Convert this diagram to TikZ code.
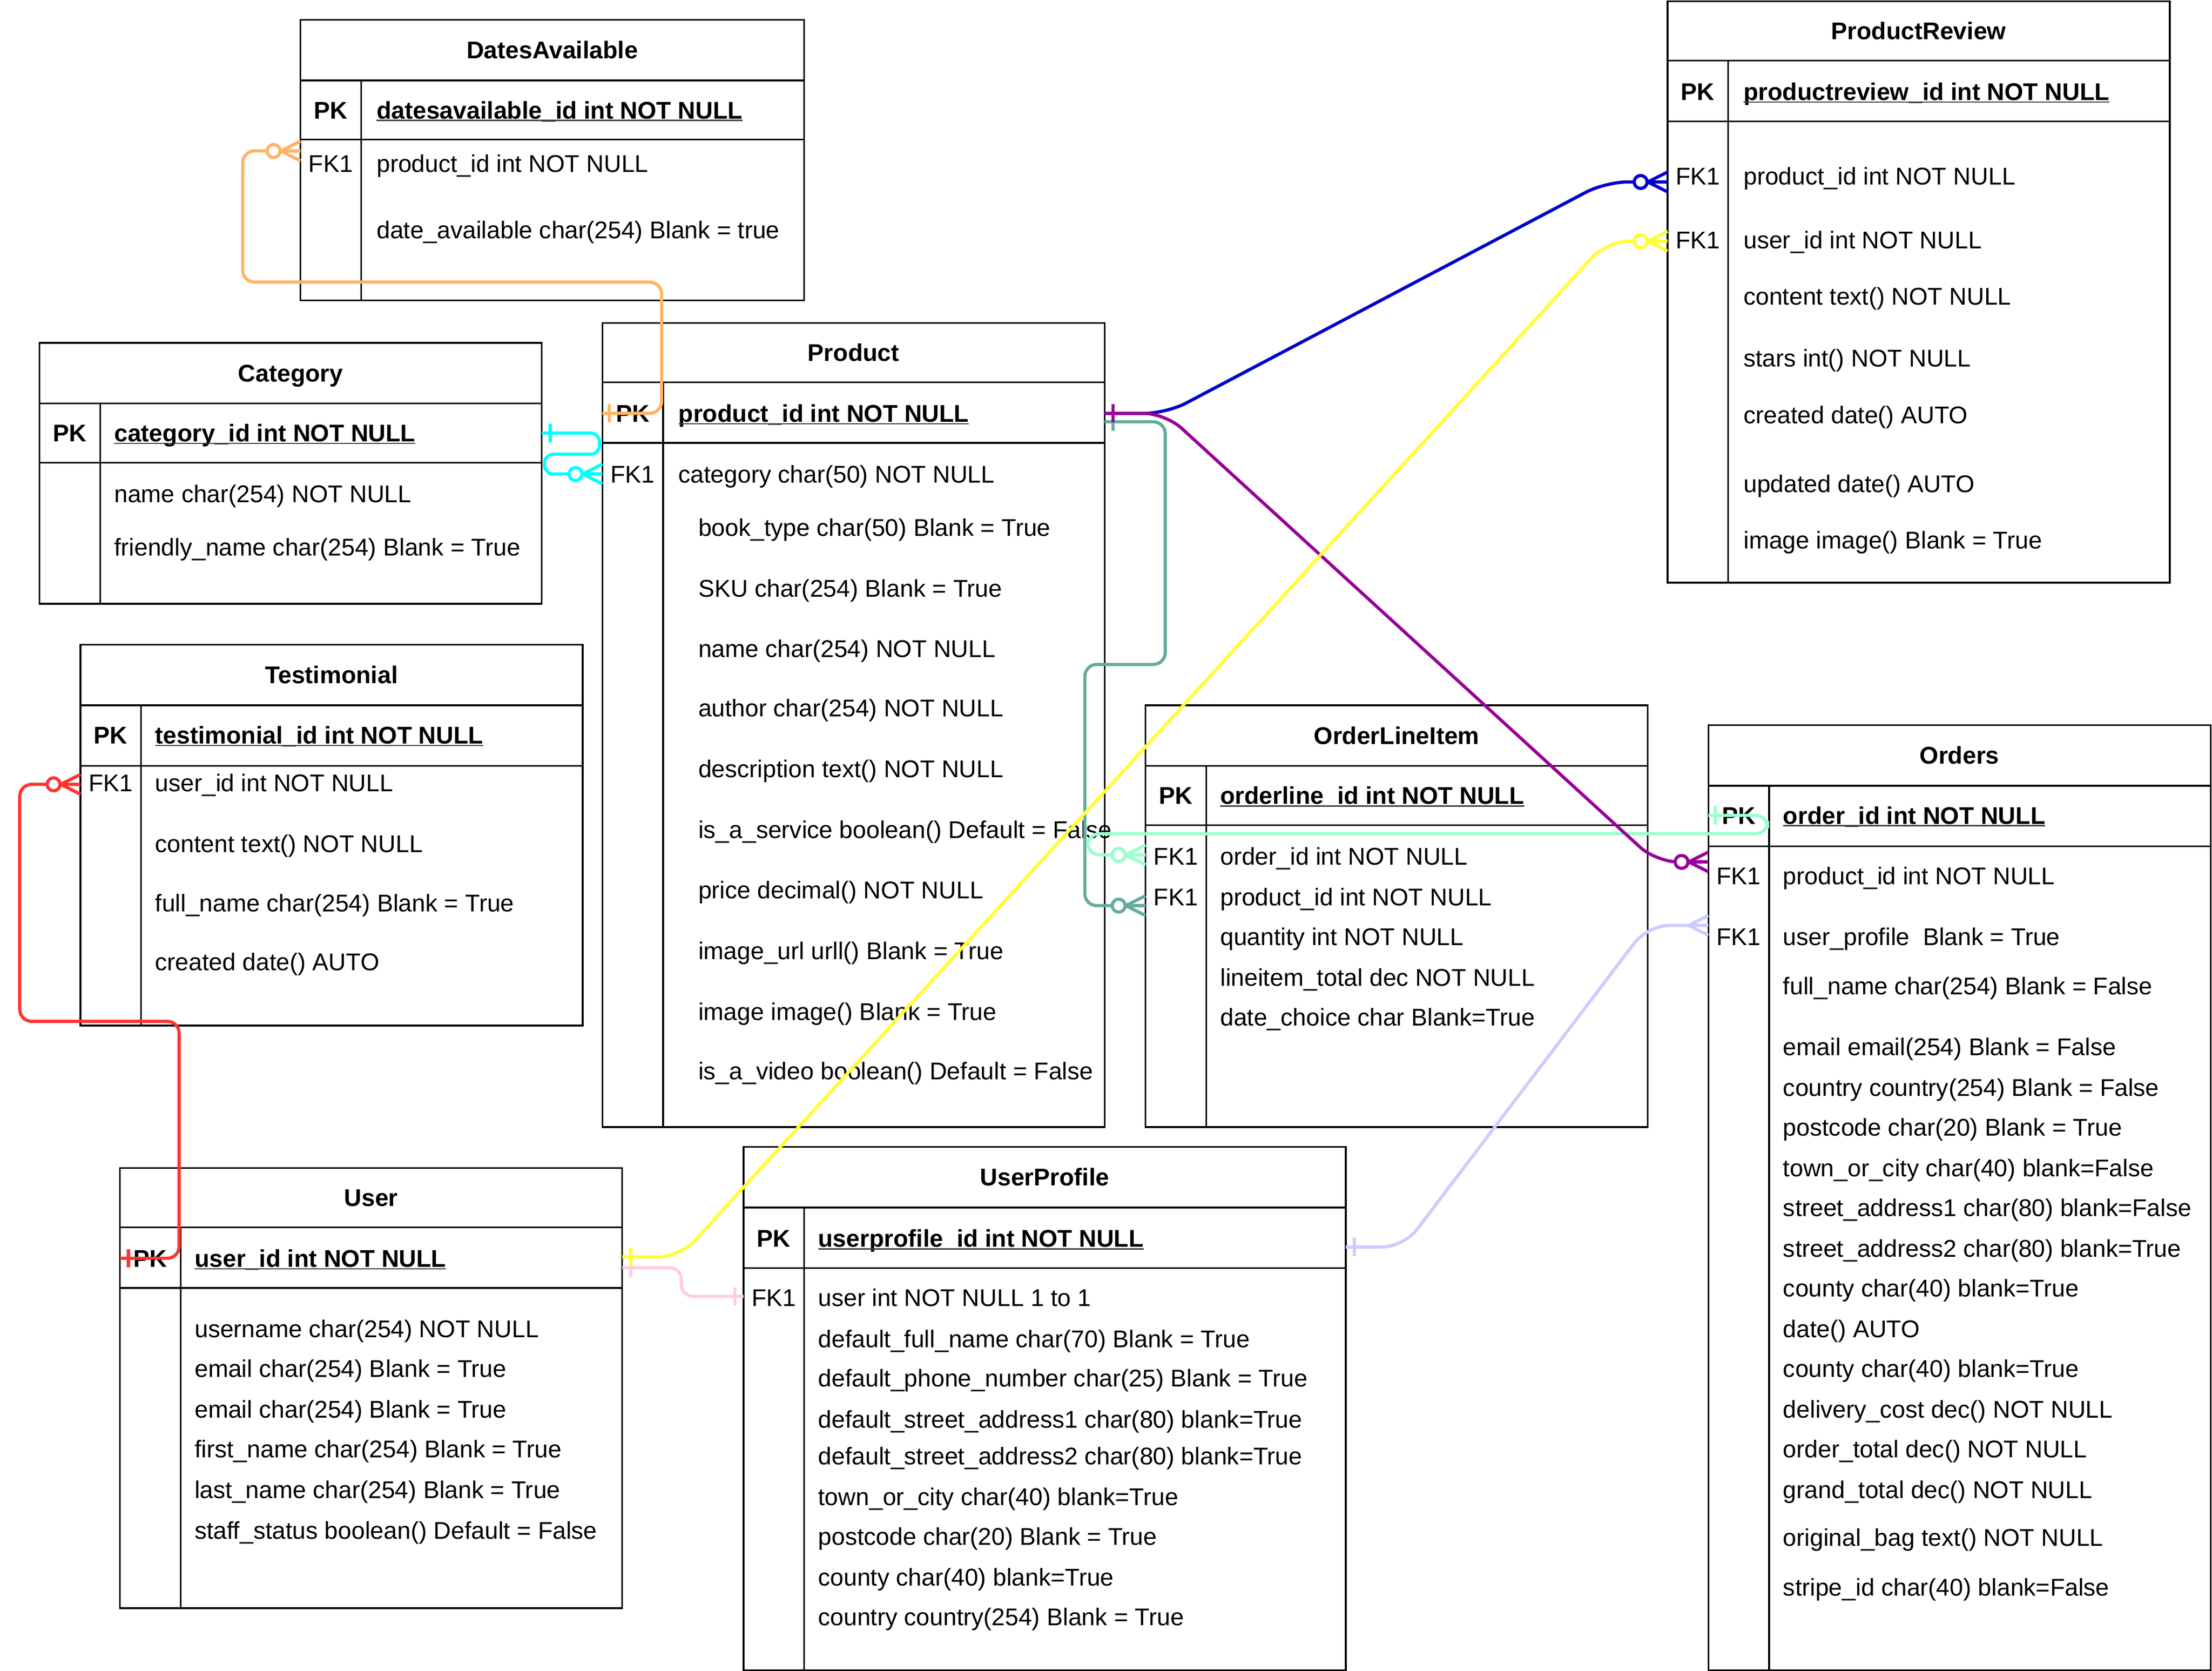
\documentclass[tikz,border=0pt]{standalone}
\usepackage{fontspec}
\setmainfont{Liberation Sans}
\usetikzlibrary{fit}
\definecolor{cOrange}{HTML}{FFB366}
\definecolor{cCyan}{HTML}{00FFFF}
\definecolor{cBlue}{HTML}{0000CC}
\definecolor{cPurple}{HTML}{990099}
\definecolor{cTeal}{HTML}{67AB9F}
\definecolor{cMint}{HTML}{99FFCC}
\definecolor{cYellow}{HTML}{FFFF33}
\definecolor{cLav}{HTML}{CCCCFF}
\definecolor{cPink}{HTML}{FFCCE6}
\definecolor{cRed}{HTML}{FF3333}

% table: name, left, top, right, bottom, title-bottom, pk-bottom, divider x, title
\newcommand{\ertable}[9]{%
  \node[tblbox, fit={(#2,#3) (#4,#5)}] (#1) {};
  \draw[tblline] (#2,#6) -- (#4,#6);
  \draw[tblline] (#2,#7) -- (#4,#7);
  \draw[tblline] (#8,#6) -- (#8,#5);
  \node[ttl] (#1-t) at ({(#2+#4)/2},{(#3+#6)/2}) {#9};
}
\newcommand{\erpk}[4]{%
  \node[fldb] (#1) at (#2,#3) {#4};
  \draw[uline] ([yshift=-0.9pt]#1.south west) -- ([yshift=-0.9pt]#1.south east);
}
\newcommand{\erfld}[4]{\node[fld] (#1) at (#2,#3) {#4};}
\newcommand{\erkey}[4]{\node[keyl] (#1) at (#2,#3) {#4};}
\newcommand{\erkeyb}[4]{\node[keyb] (#1) at (#2,#3) {#4};}
% crow's foot at entity edge (line arriving from the left); #3=1 adds circle
\newcommand{\ercrow}[3]{%
  \begin{scope}[shift={(#1)}]
    \draw[conn,#2] (-14,0) -- (0,-7) (-14,0) -- (0,7) (-14,0) -- (0,0);
    \ifnum#3=1 \draw[conn,#2,fill=white] (-19,0) circle[radius=4.6]; \fi
  \end{scope}}
% "one" tick, dx from the coordinate
\newcommand{\ertick}[3]{%
  \begin{scope}[shift={(#1)}]
    \draw[conn,#3] (#2,-6.5) -- (#2,6.5);
  \end{scope}}

\begin{document}
\begin{tikzpicture}[x=0.025cm,y=-0.025cm,
  tblbox/.style={draw=black, line width=0.85pt, fill=white, inner sep=0pt, outer sep=0pt},
  tblline/.style={draw=black, line width=0.85pt},
  txt/.style={inner sep=0pt, outer sep=0pt, text height=8.7pt, text depth=0pt, font=\fontsize{12.2}{14}\selectfont},
  ttl/.style={txt, font=\fontsize{12.2}{14}\selectfont\bfseries},
  fld/.style={txt, anchor=west},
  fldb/.style={fld, font=\fontsize{12.2}{14}\selectfont\bfseries},
  keyl/.style={txt},
  keyb/.style={txt, font=\fontsize{12.2}{14}\selectfont\bfseries},
  uline/.style={draw=black!75, line width=0.6pt},
  conn/.style={line width=1.6pt, line join=round},
  ortho/.style={conn, rounded corners=6pt},
  diag/.style={conn, rounded corners=11pt},
]
\fill[white] (0,0) rectangle (1568,1184.55);
\useasboundingbox (0,0) rectangle (1568,1184.55);

% ---------------- DatesAvailable
\ertable{da}{213}{14}{570}{213}{57}{99}{256}{DatesAvailable}
\erkeyb{da-k1}{234.5}{78}{PK}
\erpk{da-pk}{267}{78}{datesavailable\_id int NOT NULL}
\erkey{da-k2}{234.5}{116}{FK1}
\erfld{da-f1}{267}{116}{product\_id int NOT NULL}
\erfld{da-f2}{267}{163}{date\_available char(254) Blank = true}

% ---------------- Category
\ertable{cat}{28}{243}{384}{428}{286}{328}{71}{Category}
\erkeyb{cat-k1}{49.5}{307}{PK}
\erpk{cat-pk}{81}{307}{category\_id int NOT NULL}
\erfld{cat-f1}{81}{350}{name char(254) NOT NULL}
\erfld{cat-f2}{81}{388}{friendly\_name char(254) Blank = True}

% ---------------- Product
\ertable{prod}{427}{229}{783}{799}{271}{314}{470}{Product}
\erkeyb{prod-k1}{448.5}{293}{PK}
\erpk{prod-pk}{481}{293}{product\_id int NOT NULL}
\erkey{prod-k2}{448.5}{336}{FK1}
\erfld{prod-f1}{481}{336}{category char(50) NOT NULL}
\erfld{prod-f2}{495}{374}{book\_type char(50) Blank = True}
\erfld{prod-f3}{495}{417}{SKU char(254) Blank = True}
\erfld{prod-f4}{495}{460}{name char(254) NOT NULL}
\erfld{prod-f5}{495}{502}{author char(254) NOT NULL}
\erfld{prod-f6}{495}{545}{description text() NOT NULL}
\erfld{prod-f7}{495}{588}{is\_a\_service boolean() Default = False}
\erfld{prod-f8}{495}{631}{price decimal() NOT NULL}
\erfld{prod-f9}{495}{674}{image\_url urll() Blank = True}
\erfld{prod-f10}{495}{717}{image image() Blank = True}
\erfld{prod-f11}{495}{759}{is\_a\_video boolean() Default = False}

% ---------------- Testimonial
\ertable{tes}{57}{457}{413}{727}{500}{543}{100}{Testimonial}
\erkeyb{tes-k1}{78.5}{521}{PK}
\erpk{tes-pk}{110}{521}{testimonial\_id int NOT NULL}
\erkey{tes-k2}{78.5}{555}{FK1}
\erfld{tes-f1}{110}{555}{user\_id int NOT NULL}
\erfld{tes-f2}{110}{598}{content text() NOT NULL}
\erfld{tes-f3}{110}{640}{full\_name char(254) Blank = True}
\erfld{tes-f4}{110}{682}{created date() AUTO}

% ---------------- User
\ertable{usr}{85}{828}{441}{1140}{870}{913}{128}{User}
\erkeyb{usr-k1}{106.5}{892}{PK}
\erpk{usr-pk}{138}{892}{user\_id int NOT NULL}
\erfld{usr-f1}{138}{942}{username char(254) NOT NULL}
\erfld{usr-f2}{138}{970}{email char(254) Blank = True}
\erfld{usr-f3}{138}{999}{email char(254) Blank = True}
\erfld{usr-f4}{138}{1027}{first\_name char(254) Blank = True}
\erfld{usr-f5}{138}{1056}{last\_name char(254) Blank = True}
\erfld{usr-f6}{138}{1085}{staff\_status boolean() Default = False}

% ---------------- UserProfile
\ertable{upr}{527}{813}{954}{1184}{856}{899}{570}{UserProfile}
\erkeyb{upr-k1}{548.5}{878}{PK}
\erpk{upr-pk}{580}{878}{userprofile\_id int NOT NULL}
\erkey{upr-k2}{548.5}{920}{FK1}
\erfld{upr-f1}{580}{920}{user int NOT NULL 1 to 1}
\erfld{upr-f2}{580}{949}{default\_full\_name char(70) Blank = True}
\erfld{upr-f3}{580}{977}{default\_phone\_number char(25) Blank = True}
\erfld{upr-f4}{580}{1006}{default\_street\_address1 char(80) blank=True}
\erfld{upr-f5}{580}{1032}{default\_street\_address2 char(80) blank=True}
\erfld{upr-f6}{580}{1061}{town\_or\_city char(40) blank=True}
\erfld{upr-f7}{580}{1089}{postcode char(20) Blank = True}
\erfld{upr-f8}{580}{1118}{county char(40) blank=True}
\erfld{upr-f9}{580}{1146}{country country(254) Blank = True}

% ---------------- OrderLineItem
\ertable{oli}{812}{500}{1168}{799}{543}{585}{855}{OrderLineItem}
\erkeyb{oli-k1}{833.5}{564}{PK}
\erpk{oli-pk}{865}{564}{orderline\_id int NOT NULL}
\erkey{oli-k2}{833.5}{607}{FK1}
\erfld{oli-f1}{865}{607}{order\_id int NOT NULL}
\erkey{oli-k3}{833.5}{636}{FK1}
\erfld{oli-f2}{865}{636}{product\_id int NOT NULL}
\erfld{oli-f3}{865}{664}{quantity int NOT NULL}
\erfld{oli-f4}{865}{693}{lineitem\_total dec NOT NULL}
\erfld{oli-f5}{865}{721}{date\_choice char Blank=True}

% ---------------- ProductReview
\ertable{prv}{1182}{1}{1538}{413}{43}{86}{1225}{ProductReview}
\erkeyb{prv-k1}{1203.5}{65}{PK}
\erpk{prv-pk}{1236}{65}{productreview\_id int NOT NULL}
\erkey{prv-k2}{1203.5}{125}{FK1}
\erfld{prv-f1}{1236}{125}{product\_id int NOT NULL}
\erkey{prv-k3}{1203.5}{170}{FK1}
\erfld{prv-f2}{1236}{170}{user\_id int NOT NULL}
\erfld{prv-f3}{1236}{210}{content text() NOT NULL}
\erfld{prv-f4}{1236}{254}{stars int() NOT NULL}
\erfld{prv-f5}{1236}{294}{created date() AUTO}
\erfld{prv-f6}{1236}{343}{updated date() AUTO}
\erfld{prv-f7}{1236}{383}{image image() Blank = True}

% ---------------- Orders
\ertable{ord}{1211}{514}{1567}{1184}{557}{600}{1254}{Orders}
\erkeyb{ord-k1}{1232.5}{578}{PK}
\erpk{ord-pk}{1264}{578}{order\_id int NOT NULL}
\erkey{ord-k2}{1232.5}{621}{FK1}
\erfld{ord-f1}{1264}{621}{product\_id int NOT NULL}
\erkey{ord-k3}{1232.5}{664}{FK1}
\erfld{ord-f2}{1264}{664}{user\_profile~ Blank = True}
\erfld{ord-f3}{1264}{699}{full\_name char(254) Blank = False}
\erfld{ord-f4}{1264}{742}{email email(254) Blank = False}
\erfld{ord-f5}{1264}{771}{country country(254) Blank = False}
\erfld{ord-f6}{1264}{799}{postcode char(20) Blank = True}
\erfld{ord-f7}{1264}{828}{town\_or\_city char(40) blank=False}
\erfld{ord-f8}{1264}{856}{street\_address1 char(80) blank=False}
\erfld{ord-f9}{1264}{885}{street\_address2 char(80) blank=True}
\erfld{ord-f10}{1264}{913}{county char(40) blank=True}
\erfld{ord-f11}{1264}{942}{date() AUTO}
\erfld{ord-f12}{1264}{970}{county char(40) blank=True}
\erfld{ord-f13}{1264}{999}{delivery\_cost dec() NOT NULL}
\erfld{ord-f14}{1264}{1027}{order\_total dec() NOT NULL}
\erfld{ord-f15}{1264}{1056}{grand\_total dec() NOT NULL}
\erfld{ord-f16}{1264}{1090}{original\_bag text() NOT NULL}
\erfld{ord-f17}{1264}{1125}{stripe\_id char(40) blank=False}

% ---------------- connector end points
\coordinate (e-prod-pkL) at (prod.west |- 0,293);
\coordinate (e-da-fk)    at (da.west |- 0,107);
\coordinate (e-cat-pk)   at (cat.east |- 0,307);
\coordinate (e-prod-fk)  at (prod.west |- 0,336);
\coordinate (e-prod-pkR) at (prod.east |- 0,293);
\coordinate (e-prod-pkR2) at (prod.east |- 0,299);
\coordinate (e-ord-fk1)  at (ord.west |- 0,611);
\coordinate (e-ord-fk2)  at (ord.west |- 0,656);
\coordinate (e-ord-pk)   at (ord.west |- 0,578);
\coordinate (e-prv-fk1)  at (prv.west |- 0,129);
\coordinate (e-prv-fk2)  at (prv.west |- 0,171);
\coordinate (e-oli-fk1)  at (oli.west |- 0,606);
\coordinate (e-oli-fk2)  at (oli.west |- 0,642);
\coordinate (e-usr-pkR)  at (usr.east |- 0,891);
\coordinate (e-usr-pkR2) at (usr.east |- 0,898.6);
\coordinate (e-usr-pkL)  at (usr.west |- 0,892);
\coordinate (e-upr-fk)   at (upr.west |- 0,919);
\coordinate (e-upr-pk)   at (upr.east |- 0,884);
\coordinate (e-tes-fk)   at (tes.west |- 0,556);

% ---------------- connectors
% Product -> DatesAvailable
\draw[ortho,cOrange] (e-prod-pkL) -- (469,293) -- (469,200) -- (172,200) -- (172,107) -- (e-da-fk);
\ertick{e-prod-pkL}{5}{cOrange}
\ercrow{e-da-fk}{cOrange}{1}
% Category -> Product
\draw[conn,cCyan,rounded corners=4.5pt] (e-cat-pk) -- (425,307) -- (425,322) -- (386,322) -- (386,336) -- (e-prod-fk);
\ertick{e-cat-pk}{6}{cCyan}
\ercrow{e-prod-fk}{cCyan}{1}
% Product -> OrderLineItem
\draw[ortho,cTeal] (e-prod-pkR2) -- (826,299) -- (826,471) -- (769,471) -- (769,642) -- (e-oli-fk2);
\ertick{e-prod-pkR2}{6}{cTeal}
\ercrow{e-oli-fk2}{cTeal}{1}
% Orders -> OrderLineItem
\draw[ortho,cMint] (e-ord-pk) -- (1253,578) -- (1253,591) -- (771,591) -- (771,606) -- (e-oli-fk1);
\ertick{e-ord-pk}{5}{cMint}
\ercrow{e-oli-fk1}{cMint}{1}
% Product -> ProductReview
\draw[diag,cBlue] (e-prod-pkR) -- (827,293) -- (1138,129) -- (e-prv-fk1);
\ercrow{e-prv-fk1}{cBlue}{1}
% Product -> Orders
\draw[diag,cPurple] (e-prod-pkR) -- (826,293) -- (1174,611) -- (e-ord-fk1);
\ertick{e-prod-pkR}{6}{cPurple}
\ercrow{e-ord-fk1}{cPurple}{1}
% UserProfile -> Orders
\draw[diag,cLav] (e-upr-pk) -- (995,884) -- (1168,656) -- (e-ord-fk2);
\ertick{e-upr-pk}{6}{cLav}
\ercrow{e-ord-fk2}{cLav}{0}
% User -> UserProfile
\draw[ortho,cPink] (e-usr-pkR2) -- (483,898.6) -- (483,919) -- (e-upr-fk);
\ertick{e-usr-pkR2}{6}{cPink}
\ertick{e-upr-fk}{-6}{cPink}
% User -> ProductReview
\draw[diag,cYellow] (e-usr-pkR) -- (482,891) -- (1139,171) -- (e-prv-fk2);
\ertick{e-usr-pkR}{6}{cYellow}
\ercrow{e-prv-fk2}{cYellow}{1}
% User -> Testimonial
\draw[ortho,cRed] (e-usr-pkL) -- (127,892) -- (127,724) -- (14,724) -- (14,556) -- (e-tes-fk);
\ertick{e-usr-pkL}{6}{cRed}
\ercrow{e-tes-fk}{cRed}{1}
\end{tikzpicture}
\end{document}
